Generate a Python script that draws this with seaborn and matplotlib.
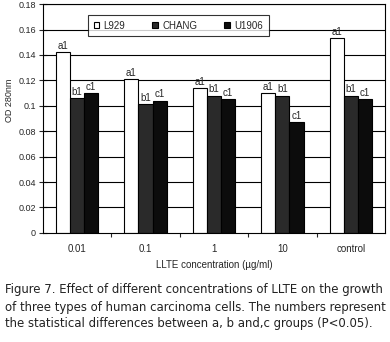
import matplotlib
matplotlib.use("Agg")
import matplotlib.pyplot as plt
import seaborn as sns
import pandas as pd
import numpy as np

categories = ["0.01", "0.1", "1", "10", "control"]
series = ["L929", "CHANG", "U1906"]
l929 = [0.142, 0.121, 0.114, 0.110, 0.153]
chang = [0.106, 0.1015, 0.108, 0.108, 0.108]
u1906 = [0.110, 0.104, 0.1055, 0.087, 0.1055]
labels_l929 = ["a1"] * 5
labels_chang = ["b1"] * 5
labels_u1906 = ["c1"] * 5
yticks = [0, 0.02, 0.04, 0.06, 0.08, 0.1, 0.12, 0.14, 0.16, 0.18]
ytick_labels = ["0", "0.02", "0.04", "0.06", "0.08", "0.1", "0.12", "0.14", "0.16", "0.18"]
caption_lines = [
    "Figure 7. Effect of different concentrations of LLTE on the growth",
    "of three types of human carcinoma cells. The numbers represent",
    "the statistical differences between a, b and,c groups (P<0.05).",
]

df = pd.DataFrame({
    "conc": categories * 3,
    "cell": sum([[s] * len(categories) for s in series], []),
    "od": l929 + chang + u1906,
})

sns.set_theme(style="white")
plt.rcParams["font.family"] = ["Liberation Sans", "DejaVu Sans"]

fig = plt.figure(figsize=(3.9, 3.42), dpi=100)
ax = fig.add_axes([0.110, 0.319, 0.877, 0.669])

palette = {"L929": "#ffffff", "CHANG": "#2a2a2a", "U1906": "#0c0c0c"}
sns.barplot(data=df, x="conc", y="od", hue="cell", order=categories,
            hue_order=series, palette=palette, width=0.62, gap=0,
            edgecolor="black", linewidth=0.8, saturation=1, ax=ax, zorder=2)

for y in yticks[1:]:
    ax.axhline(y, color="black", lw=0.8, zorder=1)

ax.set_ylim(0, 0.18)
ax.set_xlim(-0.5, len(categories) - 0.5)
ax.set_yticks(yticks)
ax.set_yticklabels(ytick_labels, fontsize=6.5)
ax.tick_params(axis="y", direction="inout", length=6, width=0.8, pad=2, left=True)
ax.set_xticks(range(len(categories)))
ax.set_xticklabels(categories, fontsize=7)
ax.tick_params(axis="x", length=0, pad=8)
ax.set_xticks(np.arange(0.5, len(categories) - 0.5, 1), minor=True)
ax.tick_params(axis="x", which="minor", direction="out", length=3, width=0.8, bottom=True)

for sp in ax.spines.values():
    sp.set_color("black")
    sp.set_linewidth(0.8)

ax.set_xlabel("LLTE concentration (\u00b5g/ml)", fontsize=7, labelpad=4)
ax.set_ylabel("OD 280nm", fontsize=6.5, labelpad=2)
ax.yaxis.set_label_coords(-0.085, 0.58)

labsets = [labels_l929, labels_chang, labels_u1906]
for cont, labs in zip(ax.containers, labsets):
    for bar, lab in zip(cont, labs):
        ax.text(bar.get_x() + bar.get_width() / 2, bar.get_height() + 0.001, lab,
                ha="center", va="bottom", fontsize=7, zorder=3)

leg = ax.legend(loc="upper left", bbox_to_anchor=(0.117, 0.975), ncol=3,
                fontsize=7, frameon=True, fancybox=False, edgecolor="black",
                handlelength=0.6, handleheight=0.6, columnspacing=2.8,
                handletextpad=0.4, borderpad=0.6)
leg.get_frame().set_linewidth(0.8)
leg.set_zorder(4)

# caption: fit each line to the reference width (~380 px)
renderer = fig.canvas.get_renderer()
ys = [290, 307, 324]
target = 378
texts = []
for line, ypx in zip(caption_lines, ys):
    t = fig.text(5 / 390, 1 - ypx / 342, line, fontsize=10, va="center", ha="left",
                 family="DejaVu Sans", fontstretch="condensed", color="#222222")
    texts.append(t)
w0 = texts[0].get_window_extent(renderer).width
scale = target / w0
for t in texts:
    t.set_fontsize(10 * scale)

fig.savefig("out.png", dpi=100)
